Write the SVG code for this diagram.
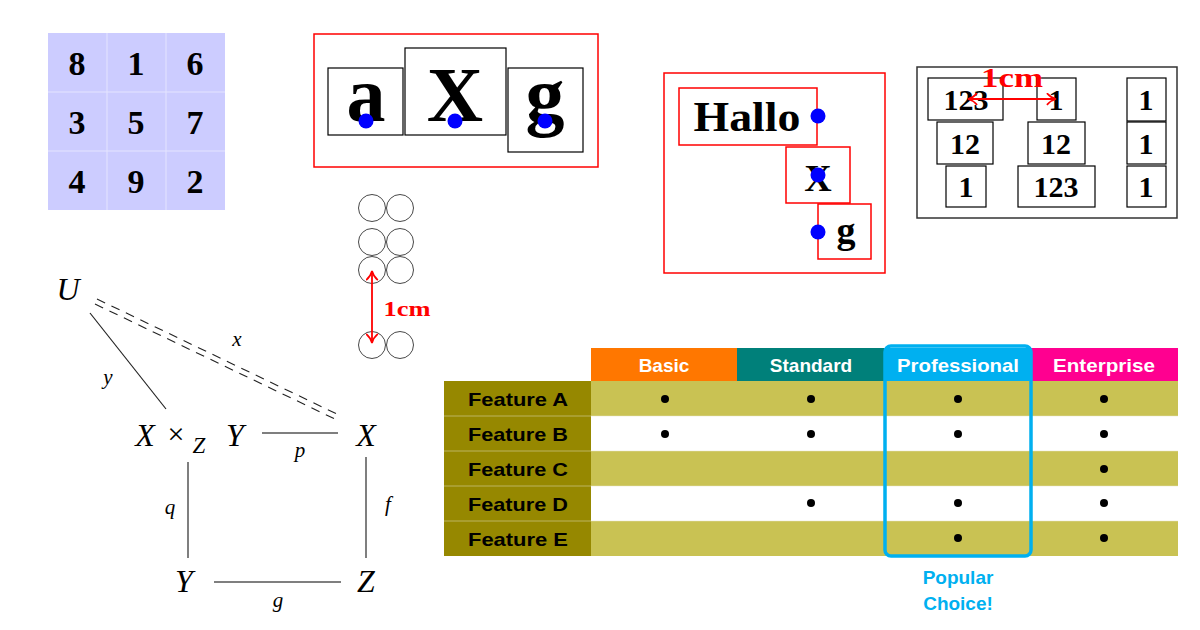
<svg xmlns="http://www.w3.org/2000/svg" width="1200" height="630" viewBox="0 0 1200 630">
<defs>
<style>
.bs{font-family:"Liberation Serif",serif;font-weight:bold;fill:#000;text-anchor:middle}
.it{font-family:"Liberation Serif",serif;font-style:italic;fill:#000;text-anchor:middle}
.hd{font-family:"Liberation Sans",sans-serif;font-weight:bold;font-size:19px;fill:#fff;text-anchor:middle}
.fl{font-family:"Liberation Sans",sans-serif;font-weight:bold;font-size:19px;fill:#000;text-anchor:middle}
.bx{fill:none;stroke:#000;stroke-width:1.2}
.rb{fill:none;stroke:#f00;stroke-width:1.5}
.dot{fill:#00f}
.cir{fill:none;stroke:#333;stroke-width:0.9}
.ln{stroke:#222;stroke-width:1.2;fill:none}
.gl{stroke:#555;stroke-width:1.5;fill:none}
.td{fill:#000}
.red{fill:#f00}
</style>
<marker id="ra" viewBox="0 0 10 10" refX="9" refY="5" markerWidth="13" markerHeight="13" orient="auto-start-reverse" markerUnits="userSpaceOnUse">
<path d="M2,0.5 Q5,4 9,5 Q5,6 2,9.5" fill="none" stroke="#f00" stroke-width="1.3"/>
</marker>
</defs>

<!-- magic square -->
<g id="magic">
<rect x="48" y="33" width="177" height="177" fill="#ccccff"/>
<path d="M107,33V210M166,33V210M48,92H225M48,151H225" stroke="#e4e4ff" stroke-width="1"/>
<g class="bs" font-size="34">
<text x="77" y="75">8</text><text x="136" y="75">1</text><text x="195" y="75">6</text>
<text x="77" y="134">3</text><text x="136" y="134">5</text><text x="195" y="134">7</text>
<text x="77" y="193">4</text><text x="136" y="193">9</text><text x="195" y="193">2</text>
</g>
</g>

<!-- aXg -->
<g id="axg">
<rect class="rb" x="314" y="34" width="284" height="133"/>
<rect class="bx" x="328" y="68" width="75" height="67"/>
<rect class="bx" x="405" y="48" width="101" height="87"/>
<rect class="bx" x="508" y="68" width="75" height="84"/>
<g class="bs" font-size="78">
<text x="366" y="121">a</text><text x="455" y="121">X</text><text x="545" y="121">g</text>
</g>
<circle class="dot" cx="366" cy="121" r="7.5"/>
<circle class="dot" cx="455" cy="121" r="7.5"/>
<circle class="dot" cx="545" cy="121" r="7.5"/>
</g>

<!-- Hallo -->
<g id="hallo">
<rect class="rb" x="664" y="73" width="221" height="200"/>
<rect class="rb" x="679" y="88" width="138" height="57"/>
<rect class="rb" x="786" y="147" width="64" height="56"/>
<rect class="rb" x="818" y="204" width="53" height="55"/>
<text class="bs" x="747" y="131" font-size="42" textLength="107" lengthAdjust="spacingAndGlyphs">Hallo</text>
<text class="bs" x="818" y="191" font-size="38">X</text>
<text class="bs" x="846" y="243" font-size="38">g</text>
<circle class="dot" cx="818" cy="116" r="7.5"/>
<circle class="dot" cx="818" cy="175" r="7.5"/>
<circle class="dot" cx="818" cy="232" r="7.5"/>
</g>

<!-- number boxes -->
<g id="numbers">
<rect x="917" y="67" width="260" height="151" fill="none" stroke="#333" stroke-width="1.5"/>
<g class="bx">
<rect x="928" y="78" width="75" height="42"/>
<rect x="1037" y="78" width="39" height="42"/>
<rect x="1127" y="78" width="39" height="43"/>
<rect x="937" y="122" width="56" height="42"/>
<rect x="1028" y="122" width="57" height="42"/>
<rect x="1127" y="122" width="39" height="42"/>
<rect x="946" y="166" width="40" height="41"/>
<rect x="1018" y="166" width="77" height="41"/>
<rect x="1127" y="166" width="39" height="41"/>
</g>
<g class="bs" font-size="30">
<text x="966" y="110">123</text><text x="1056" y="110">1</text><text x="1146" y="110">1</text>
<text x="965" y="154">12</text><text x="1056" y="154">12</text><text x="1146" y="154">1</text>
<text x="966" y="197">1</text><text x="1056" y="197">123</text><text x="1146" y="197">1</text>
</g>
<line x1="968" y1="99" x2="1056" y2="99" stroke="#f00" stroke-width="1.8" marker-start="url(#ra)" marker-end="url(#ra)"/>
<text class="bs red" x="1012" y="87" font-size="28" textLength="62" lengthAdjust="spacingAndGlyphs" style="fill:#f00">1cm</text>
</g>

<!-- circles -->
<g id="circles">
<circle class="cir" cx="372" cy="208" r="13.5"/><circle class="cir" cx="400" cy="208" r="13.5"/>
<circle class="cir" cx="372" cy="242" r="13.5"/><circle class="cir" cx="400" cy="242" r="13.5"/>
<circle class="cir" cx="372" cy="270" r="13.5"/><circle class="cir" cx="400" cy="270" r="13.5"/>
<circle class="cir" cx="372" cy="345" r="13.5"/><circle class="cir" cx="400" cy="345" r="13.5"/>
<line x1="372" y1="271" x2="372" y2="343" stroke="#f00" stroke-width="1.8" marker-start="url(#ra)" marker-end="url(#ra)"/>
<text class="bs" x="407" y="316" font-size="21" textLength="47" lengthAdjust="spacingAndGlyphs" style="fill:#f00">1cm</text>
</g>

<!-- commutative diagram nodes -->
<g id="n-U"><text class="it" x="68" y="300" font-size="32">U</text></g>
<g id="n-P">
<text class="it" x="145" y="446" font-size="32">X</text>
<text x="176" y="444" font-family="Liberation Serif, serif" font-size="30" text-anchor="middle">×</text>
<text class="it" x="199" y="453" font-size="23">Z</text>
<text class="it" x="235" y="446" font-size="32">Y</text>
</g>
<g id="n-X"><text class="it" x="366" y="446" font-size="32">X</text></g>
<g id="n-Y"><text class="it" x="184" y="592" font-size="32">Y</text></g>
<g id="n-Z"><text class="it" x="366" y="592" font-size="32">Z</text></g>

<g id="connectors">
<line class="ln" x1="90" y1="313" x2="166" y2="409"/>
<g stroke="#222" stroke-width="1.1" stroke-dasharray="9,7">
<line x1="97" y1="299" x2="339" y2="415"/>
<line x1="95" y1="304" x2="337" y2="420"/>
</g>
<line class="gl" x1="262" y1="433" x2="338" y2="433"/>
<line class="gl" x1="188" y1="462" x2="188" y2="558"/>
<line class="gl" x1="366" y1="457" x2="366" y2="558"/>
<line class="gl" x1="214" y1="582" x2="341" y2="582"/>
<text class="it" x="108" y="384" font-size="21">y</text>
<text class="it" x="237" y="346" font-size="21">x</text>
<text class="it" x="300" y="457" font-size="21">p</text>
<text class="it" x="170" y="514" font-size="21">q</text>
<text class="it" x="388" y="511" font-size="21">f</text>
<text class="it" x="278" y="607" font-size="21">g</text>
</g>

<!-- table -->
<g id="table">
<rect x="591" y="348" width="146" height="33" fill="#ff7700"/>
<rect x="737" y="348" width="147" height="33" fill="#00807a"/>
<rect x="884" y="348" width="147" height="33" fill="#00b0f0"/>
<rect x="1031" y="348" width="147" height="33" fill="#ff0090"/>
<text class="hd" x="664" y="372">Basic</text>
<text class="hd" x="811" y="372">Standard</text>
<text class="hd" x="958" y="372" textLength="122" lengthAdjust="spacingAndGlyphs">Professional</text>
<text class="hd" x="1104" y="372" textLength="102" lengthAdjust="spacingAndGlyphs">Enterprise</text>

<rect x="444" y="381" width="147" height="175" fill="#968800"/>
<rect x="591" y="381" width="587" height="35" fill="#c9c253"/>
<rect x="591" y="451" width="587" height="35" fill="#c9c253"/>
<rect x="591" y="521" width="587" height="35" fill="#c9c253"/>
<path d="M444,416H1178M444,451H1178M444,486H1178M444,521H1178" stroke="#e8e6c8" stroke-width="0.8" opacity="0.6"/>
<text class="fl" x="518" y="406" textLength="100" lengthAdjust="spacingAndGlyphs">Feature A</text>
<text class="fl" x="518" y="441" textLength="100" lengthAdjust="spacingAndGlyphs">Feature B</text>
<text class="fl" x="518" y="476" textLength="100" lengthAdjust="spacingAndGlyphs">Feature C</text>
<text class="fl" x="518" y="511" textLength="100" lengthAdjust="spacingAndGlyphs">Feature D</text>
<text class="fl" x="518" y="546" textLength="100" lengthAdjust="spacingAndGlyphs">Feature E</text>
<g class="td">
<circle cx="665" cy="399" r="4"/><circle cx="665" cy="434" r="4"/>
<circle cx="811" cy="399" r="4"/><circle cx="811" cy="434" r="4"/><circle cx="811" cy="503" r="4"/>
<circle cx="958" cy="399" r="4"/><circle cx="958" cy="434" r="4"/><circle cx="958" cy="503" r="4"/><circle cx="958" cy="538" r="4"/>
<circle cx="1104" cy="399" r="4"/><circle cx="1104" cy="434" r="4"/><circle cx="1104" cy="469" r="4"/><circle cx="1104" cy="503" r="4"/><circle cx="1104" cy="538" r="4"/>
</g>
<rect x="885" y="346" width="146" height="210" rx="6" fill="none" stroke="#00b0f0" stroke-width="3.5"/>
<text x="958" y="584" font-family="Liberation Sans, sans-serif" font-weight="bold" font-size="19" fill="#00b0f0" text-anchor="middle">Popular</text>
<text x="958" y="610" font-family="Liberation Sans, sans-serif" font-weight="bold" font-size="19" fill="#00b0f0" text-anchor="middle">Choice!</text>
</g>
</svg>
